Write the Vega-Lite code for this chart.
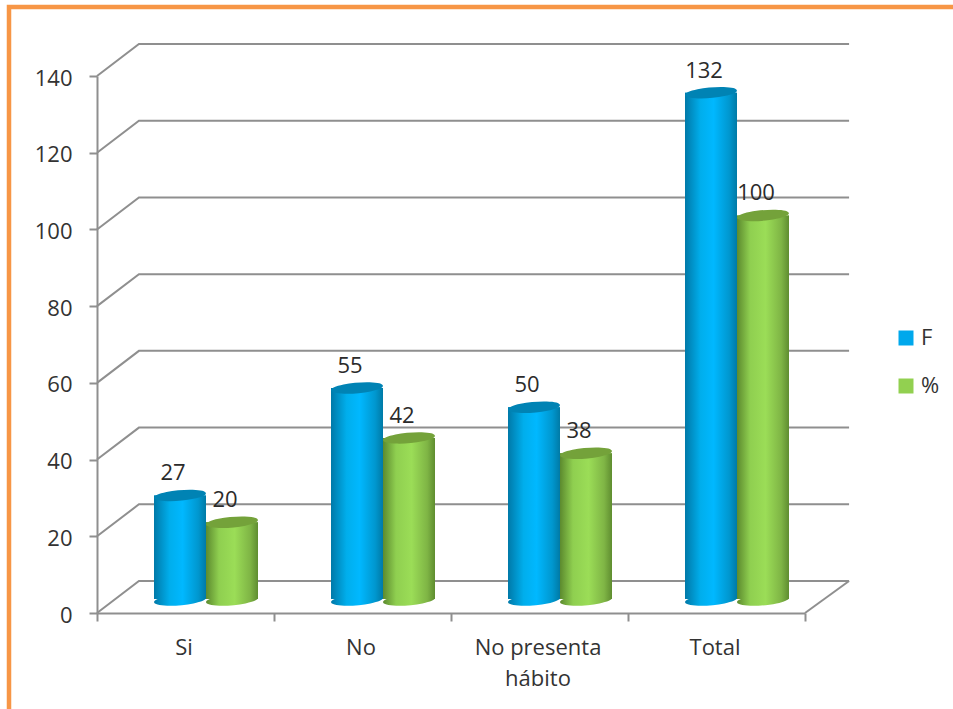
{
  "$schema": "https://vega.github.io/schema/vega-lite/v6.json",
  "width": 708,
  "height": 537,
  "autosize": {"type": "none"},
  "padding": {"left": 97, "top": 76, "right": 148, "bottom": 96},
  "background": "white",
  "config": {
    "view": {"stroke": null},
    "font": "Open Sans",
    "axis": {"labelFont": "Open Sans", "labelFontSize": 22, "labelColor": "#333333", "grid": false, "title": null}
  },
  "datasets": {
    "bars": [
      {"category": "Si", "series": "F", "value": 27},
      {"category": "Si", "series": "%", "value": 20},
      {"category": "No", "series": "F", "value": 55},
      {"category": "No", "series": "%", "value": 42},
      {"category": "No presenta hábito", "series": "F", "value": 50},
      {"category": "No presenta hábito", "series": "%", "value": 38},
      {"category": "Total", "series": "F", "value": 132},
      {"category": "Total", "series": "%", "value": 100}
    ],
    "walls": [
      {"level": -1, "u": 4, "v": 0}, {"level": -1, "u": 4.249, "v": 8.34},
      {"level": 0, "u": 0, "v": 0}, {"level": 0, "u": 0.237, "v": 8.34}, {"level": 0, "u": 4.249, "v": 8.34},
      {"level": 20, "u": 0, "v": 20}, {"level": 20, "u": 0.237, "v": 28.34}, {"level": 20, "u": 4.249, "v": 28.34},
      {"level": 40, "u": 0, "v": 40}, {"level": 40, "u": 0.237, "v": 48.34}, {"level": 40, "u": 4.249, "v": 48.34},
      {"level": 60, "u": 0, "v": 60}, {"level": 60, "u": 0.237, "v": 68.34}, {"level": 60, "u": 4.249, "v": 68.34},
      {"level": 80, "u": 0, "v": 80}, {"level": 80, "u": 0.237, "v": 88.34}, {"level": 80, "u": 4.249, "v": 88.34},
      {"level": 100, "u": 0, "v": 100}, {"level": 100, "u": 0.237, "v": 108.34}, {"level": 100, "u": 4.249, "v": 108.34},
      {"level": 120, "u": 0, "v": 120}, {"level": 120, "u": 0.237, "v": 128.34}, {"level": 120, "u": 4.249, "v": 128.34},
      {"level": 140, "u": 0, "v": 140}, {"level": 140, "u": 0.237, "v": 148.34}, {"level": 140, "u": 4.249, "v": 148.34}
    ]
  },
  "resolve": {"scale": {"x": "independent"}},
  "layer": [
    {
      "description": "Orange slide frame, open towards the right and bottom edges",
      "data": {"values": [{}]},
      "mark": {"type": "rect", "fill": null, "stroke": "#f79646", "strokeWidth": 4.5},
      "encoding": {
        "x": {"value": -88},
        "x2": {"value": 880},
        "y": {"value": -69},
        "y2": {"value": 660}
      }
    },
    {
      "description": "Back wall and floor lines of the 3D box, with the plain axes",
      "data": {"name": "walls"},
      "mark": {"type": "line", "stroke": "#8f8f8f", "strokeWidth": 2, "clip": false, "strokeJoin": "miter"},
      "encoding": {
        "x": {
          "field": "u",
          "type": "quantitative",
          "scale": {"domain": [0, 4], "nice": false, "zero": false},
          "axis": {
            "orient": "bottom",
            "values": [0, 1, 2, 3, 4],
            "labels": false,
            "domainColor": "#8f8f8f",
            "domainWidth": 2,
            "tickColor": "#8f8f8f",
            "tickWidth": 2,
            "tickSize": 8
          }
        },
        "y": {
          "field": "v",
          "type": "quantitative",
          "scale": {"domain": [0, 140], "nice": false},
          "axis": {
            "values": [0, 20, 40, 60, 80, 100, 120, 140],
            "domainColor": "#8f8f8f",
            "domainWidth": 2,
            "tickColor": "#8f8f8f",
            "tickWidth": 2,
            "tickSize": 8,
            "labelPadding": 17,
            "labelOffset": 2
          }
        },
        "detail": {"field": "level"},
        "order": {"field": "u", "type": "quantitative"}
      }
    },
    {
      "description": "Cylinders, category axis and legend; the offset range pushes them to mid-depth of the box",
      "data": {"name": "bars"},
      "encoding": {
        "x": {
          "field": "category",
          "type": "nominal",
          "sort": ["Si", "No", "No presenta hábito", "Total"],
          "scale": {"paddingInner": 0, "paddingOuter": 0},
          "axis": {
            "orient": "bottom",
            "domain": false,
            "ticks": false,
            "labelAngle": 0,
            "labelPadding": 24,
            "labelOffset": -1.5,
            "labelLineHeight": 31,
            "labelLimit": 300,
            "labelExpr": "datum.label == 'No presenta hábito' ? ['No presenta', 'hábito'] : datum.label"
          }
        },
        "xOffset": {
          "field": "series",
          "sort": ["F", "%"],
          "scale": {"domain": ["F", "%"], "paddingInner": 0, "paddingOuter": 0, "range": [57, 161]}
        }
      },
      "layer": [
        {
          "description": "Flat base colour that feeds the legend",
          "mark": {"type": "bar", "yOffset": -14, "y2Offset": -14},
          "encoding": {
            "y": {"field": "value", "type": "quantitative", "stack": null},
            "y2": {"datum": 0},
            "color": {
              "field": "series",
              "type": "nominal",
              "sort": ["F", "%"],
              "scale": {"domain": ["F", "%"], "range": ["#00a8ec", "#92d050"]},
              "legend": {
                "orient": "none",
                "legendX": 798,
                "legendY": 251,
                "title": null,
                "symbolType": "square",
                "symbolSize": 225,
                "labelFont": "Open Sans",
                "labelFontSize": 22,
                "labelColor": "#333333",
                "labelOffset": 4,
                "rowPadding": 26
              }
            }
          }
        },
        {
          "description": "F bottom cap, shaded like the body",
          "transform": [{"filter": "datum.series === 'F'"}],
          "mark": {"type": "point", "filled": true, "opacity": 1, "size": 2704, "yOffset": -13,
            "fill": {"gradient": "linear", "x1": 0, "x2": 1, "y1": 0, "y2": 0,
              "stops": [
                {"offset": 0, "color": "#0079a8"},
                {"offset": 0.3, "color": "#00aeec"},
                {"offset": 0.55, "color": "#00b8ff"},
                {"offset": 0.85, "color": "#0097cf"},
                {"offset": 1, "color": "#007aa6"}
              ]},
            "shape": "M-0.996,0.087A1,0.2,-5,1,1,0.996,-0.087A1,0.2,-5,1,1,-0.996,0.087Z"},
          "encoding": {"y": {"datum": 0, "type": "quantitative"}}
        },
        {
          "transform": [{"filter": "datum.series === 'F'"}],
          "mark": {"type": "bar", "yOffset": -14, "y2Offset": -14,
            "fill": {"gradient": "linear", "x1": 0, "x2": 1, "y1": 0, "y2": 0,
              "stops": [
                {"offset": 0, "color": "#0079a8"},
                {"offset": 0.3, "color": "#00aeec"},
                {"offset": 0.55, "color": "#00b8ff"},
                {"offset": 0.85, "color": "#0097cf"},
                {"offset": 1, "color": "#007aa6"}
              ]}},
          "encoding": {"y": {"field": "value", "type": "quantitative", "stack": null}, "y2": {"datum": 0}}
        },
        {
          "transform": [{"filter": "datum.series === 'F'"}],
          "mark": {"type": "point", "filled": true, "opacity": 1, "size": 2704, "yOffset": -14, "color": "#0083b4",
            "shape": "M-0.996,0.087A1,0.2,-5,1,1,0.996,-0.087A1,0.2,-5,1,1,-0.996,0.087Z"},
          "encoding": {"y": {"field": "value", "type": "quantitative"}}
        },
        {
          "description": "% bottom cap, shaded like the body",
          "transform": [{"filter": "datum.series === '%'"}],
          "mark": {"type": "point", "filled": true, "opacity": 1, "size": 2704, "yOffset": -13,
            "fill": {"gradient": "linear", "x1": 0, "x2": 1, "y1": 0, "y2": 0,
              "stops": [
                {"offset": 0, "color": "#5c8a2e"},
                {"offset": 0.25, "color": "#8fcf50"},
                {"offset": 0.55, "color": "#9bdd57"},
                {"offset": 0.85, "color": "#7fb545"},
                {"offset": 1, "color": "#5f8d30"}
              ]},
            "shape": "M-0.996,0.087A1,0.2,-5,1,1,0.996,-0.087A1,0.2,-5,1,1,-0.996,0.087Z"},
          "encoding": {"y": {"datum": 0, "type": "quantitative"}}
        },
        {
          "transform": [{"filter": "datum.series === '%'"}],
          "mark": {"type": "bar", "yOffset": -14, "y2Offset": -14,
            "fill": {"gradient": "linear", "x1": 0, "x2": 1, "y1": 0, "y2": 0,
              "stops": [
                {"offset": 0, "color": "#5c8a2e"},
                {"offset": 0.25, "color": "#8fcf50"},
                {"offset": 0.55, "color": "#9bdd57"},
                {"offset": 0.85, "color": "#7fb545"},
                {"offset": 1, "color": "#5f8d30"}
              ]}},
          "encoding": {"y": {"field": "value", "type": "quantitative", "stack": null}, "y2": {"datum": 0}}
        },
        {
          "transform": [{"filter": "datum.series === '%'"}],
          "mark": {"type": "point", "filled": true, "opacity": 1, "size": 2704, "yOffset": -14, "color": "#74a23a",
            "shape": "M-0.996,0.087A1,0.2,-5,1,1,0.996,-0.087A1,0.2,-5,1,1,-0.996,0.087Z"},
          "encoding": {"y": {"field": "value", "type": "quantitative"}}
        },
        {
          "description": "Value labels above each cylinder",
          "mark": {"type": "text", "fontSize": 22, "font": "Open Sans", "color": "#2b2b2b", "baseline": "middle", "dx": -7, "dy": -36},
          "encoding": {
            "y": {"field": "value", "type": "quantitative"},
            "text": {"field": "value", "type": "quantitative"}
          }
        }
      ]
    }
  ]
}
